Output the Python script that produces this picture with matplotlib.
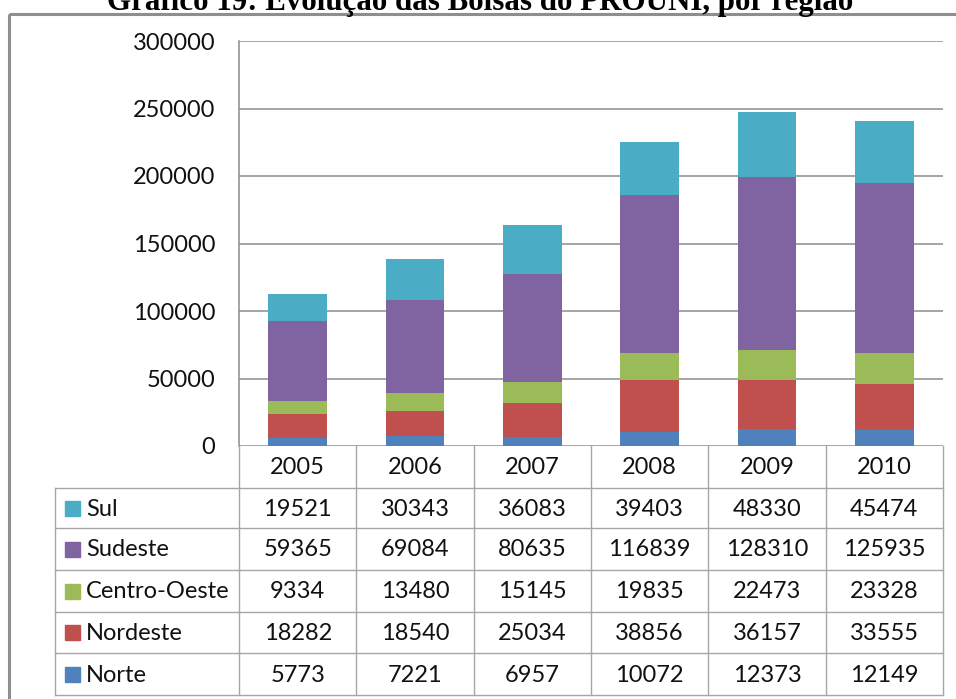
import matplotlib
matplotlib.use("Agg")
import matplotlib.pyplot as plt
from matplotlib.patches import Rectangle
import numpy as np

years = ["2005", "2006", "2007", "2008", "2009", "2010"]
norte = [5773, 7221, 6957, 10072, 12373, 12149]
nordeste = [18282, 18540, 25034, 38856, 36157, 33555]
centro_oeste = [9334, 13480, 15145, 19835, 22473, 23328]
sudeste = [59365, 69084, 80635, 116839, 128310, 125935]
sul = [19521, 30343, 36083, 39403, 48330, 45474]
series_names = ["Norte", "Nordeste", "Centro-Oeste", "Sudeste", "Sul"]
series_values = [norte, nordeste, centro_oeste, sudeste, sul]
colors = ["#4F81BD", "#C0504D", "#9BBB59", "#8064A2", "#4BACC6"]
yticks = [0, 50000, 100000, 150000, 200000, 250000, 300000]
title = "Gráfico 19: Evolução das Bolsas do PROUNI, por região"

W, H = 956, 699
FONT = "Lato"
FS = 17
grid_c = "#8C8C8C"
tbl_c = "#A6A6A6"

fig = plt.figure(figsize=(W / 100, H / 100), dpi=100)

# plot area in pixel coords
px_l, px_r, px_t, px_b = 239, 943, 41, 446
ax = fig.add_axes([px_l / W, (H - px_b) / H, (px_r - px_l) / W, (px_b - px_t) / H])
x = np.arange(len(years))
bottom = np.zeros(len(years))
for name, vals, c in zip(series_names, series_values, colors):
    ax.bar(x, vals, width=0.5, bottom=bottom, color=c, zorder=3)
    bottom += np.array(vals)
ax.set_xlim(-0.5, len(years) - 0.5)
ax.set_ylim(0, 300000)
ax.set_yticks(yticks)
ax.set_yticklabels([str(v) for v in yticks], fontfamily=FONT, fontsize=FS, color="#111111")
ax.set_xticks([])
ax.tick_params(axis="y", length=0, pad=17)
ax.grid(axis="y", color=grid_c, lw=1.1, zorder=0)
for s in ["top", "right", "bottom"]:
    ax.spines[s].set_visible(False)
ax.spines["left"].set_color(grid_c)
ax.spines["left"].set_linewidth(1.1)

# overlay axes in pixel coordinates for table, title and frame
ov = fig.add_axes([0, 0, 1, 1])
ov.set_xlim(0, W)
ov.set_ylim(H, 0)
ov.axis("off")
ov.patch.set_visible(False)

# chart frame
ov.add_patch(Rectangle((9, 14), W + 20, H + 20, fill=False, ec="#8E8E8E", lw=2.2))

# title (partly cut off at the top, as in the source)
ov.text(W / 2 + 2, 10, title, ha="center", va="baseline", fontfamily="Liberation Serif",
        fontweight="bold", fontsize=22.3, color="black")

# table
col_w = (px_r - px_l) / len(years)
col_x = [px_l + i * col_w for i in range(len(years) + 1)]
row_y = [px_b, 488, 528, 570, 612, 653, 695]
tbl_left = 55
lw_t = 1.0
for cx in col_x:
    ov.plot([cx, cx], [px_b, row_y[-1]], color=tbl_c, lw=lw_t)
ov.plot([tbl_left, tbl_left], [row_y[1], row_y[-1]], color=tbl_c, lw=lw_t)
for ry in row_y[1:]:
    ov.plot([tbl_left, px_r], [ry, ry], color=tbl_c, lw=lw_t)

for i, yr in enumerate(years):
    ov.text((col_x[i] + col_x[i + 1]) / 2, (row_y[0] + row_y[1]) / 2 + 1, yr,
            ha="center", va="center", fontfamily=FONT, fontsize=FS, color="#111111")

rows = list(zip(series_names, series_values, colors))[::-1]
for r, (name, vals, c) in enumerate(rows):
    yc = (row_y[r + 1] + row_y[r + 2]) / 2
    ov.add_patch(Rectangle((65, yc - 7.5), 15, 15, color=c))
    ov.text(86, yc + 1, name, ha="left", va="center", fontfamily=FONT, fontsize=FS,
            color="#111111")
    for i, v in enumerate(vals):
        ov.text((col_x[i] + col_x[i + 1]) / 2, yc + 1, str(v), ha="center", va="center",
                fontfamily=FONT, fontsize=FS, color="#111111")

fig.savefig("out.png", dpi=100)
